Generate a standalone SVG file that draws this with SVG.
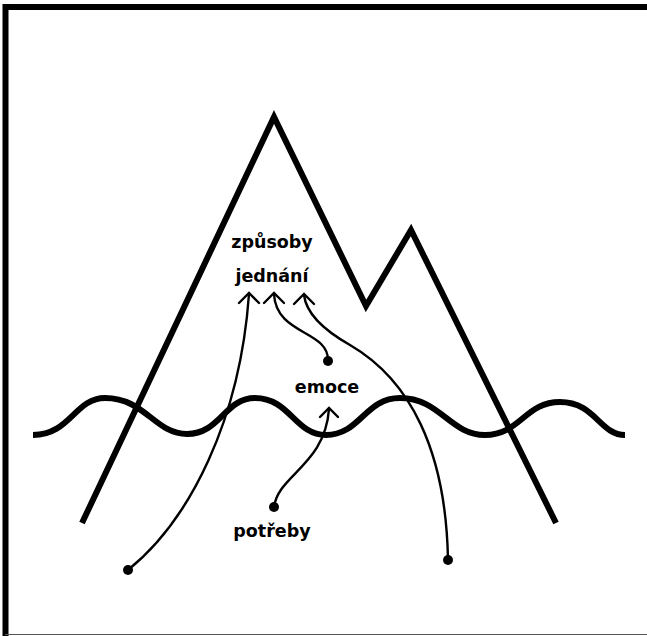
<svg xmlns="http://www.w3.org/2000/svg" width="647" height="636" viewBox="0 0 647 636">
<defs>
<style>
.thick{fill:none;stroke:#000;stroke-width:6;stroke-linejoin:miter}
.conn{fill:none;stroke:#000;stroke-width:2.4;stroke-linecap:round}
.head{fill:none;stroke:#000;stroke-width:2.4;stroke-linecap:round;stroke-linejoin:miter}
.dot{fill:#000}
.lbl{font-family:"DejaVu Sans","Liberation Sans",sans-serif;font-weight:700;font-size:17.5px;fill:#000;text-anchor:middle}
</style>
</defs>
<rect width="647" height="636" fill="#fff"/>
<g id="frame">
<path d="M5.5,636 V7 H647" fill="none" stroke="#000" stroke-width="6"/>
<line x1="5" y1="634.5" x2="647" y2="634.5" stroke="#555" stroke-width="1.2"/>
</g>
<g id="mountains">
<path class="thick" d="M82,523 L274,117 L366,306 L411,230 L556,523"/>
</g>
<g id="wave">
<path class="thick" d="M33,435 C70,435 75,398 105,398 C145,398 155,434 187,434 C220,434 225,398 255,398 C290,398 295,435 326,435 C360,435 365,398 400,398 C440,398 450,435 485,435 C520,435 525,402 560,402 C595,402 600,435 625,435"/>
</g>
<g id="labels">
<g id="node-zpusoby"><text class="lbl" x="272" y="248">způsoby</text></g>
<g id="node-jednani"><text class="lbl" x="272" y="282">jednání</text></g>
<g id="node-emoce"><text class="lbl" x="327" y="393">emoce</text></g>
<g id="node-potreby"><text class="lbl" x="272" y="537">potřeby</text></g>
</g>
<g id="connectors">
<path class="conn" d="M128,570 C190,520 240,420 249,294"/>
<path class="head" d="M239,303 L249,293 L259,303"/>
<circle class="dot" cx="128" cy="570" r="5"/>
<path class="conn" d="M328,360 C328,330 276,335 274,294"/>
<path class="head" d="M264,303 L274,293 L284,303"/>
<circle class="dot" cx="328" cy="361" r="5"/>
<path class="conn" d="M448,560 C446,450 410,380 350,345 C320,328 306,312 304,295"/>
<path class="head" d="M294,304 L304,294 L314,304"/>
<circle class="dot" cx="448" cy="560" r="5"/>
<path class="conn" d="M274,507 C278,475 325,465 329,409"/>
<path class="head" d="M320,417 L329,408 L338,417"/>
<circle class="dot" cx="274" cy="507" r="5"/>
</g>
</svg>
